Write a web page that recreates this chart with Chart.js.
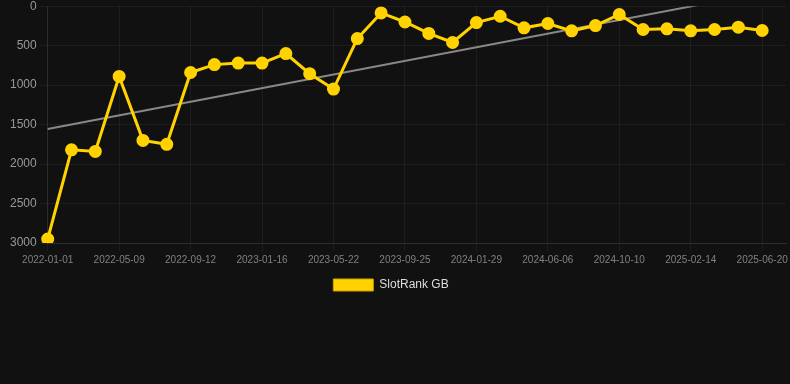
<!DOCTYPE html>
<html>
<head>
<meta charset="utf-8">
<script src="https://cdn.jsdelivr.net/npm/chart.js@4"></script>
<style>
    html, body { margin: 0; padding: 0; background: #111111; overflow: hidden; }
    #wrap { position: relative; width: 795px; height: 305px; margin-top: -4px; }
</style>
</head>
<body>
<div id="wrap"><canvas id="rankChart"></canvas></div>
<script>
// Dates of each rank snapshot (the last one has no value yet)
const dates = [
    "2022-01-01", "2022-02-12", "2022-03-26", "2022-05-09", "2022-06-20", "2022-08-01",
    "2022-09-12", "2022-10-25", "2022-12-05", "2023-01-16", "2023-02-28", "2023-04-10",
    "2023-05-22", "2023-07-04", "2023-08-14", "2023-09-25", "2023-11-07", "2023-12-18",
    "2024-01-29", "2024-03-12", "2024-04-24", "2024-06-06", "2024-07-18", "2024-08-29",
    "2024-10-10", "2024-11-22", "2025-01-03", "2025-02-14", "2025-03-28", "2025-05-09",
    "2025-06-20", "2025-08-01",
];

// SlotRank GB position per date
const rankGB = [
    2950, 1820, 1840, 890, 1700, 1750,
    840, 740, 720, 720, 600, 855,
    1050, 410, 85, 200, 345, 460,
    207, 127, 274, 219, 312, 245,
    105, 295, 287, 312, 295, 266,
    308, null,
];

// trend line, only start and end values
const trendStart = 1557;
const trendEnd = -170;
const trend = dates.map(() => null);
trend[0] = trendStart;
trend[30] = trendEnd;

const ctx = document.getElementById("rankChart").getContext("2d");
const rankChart = new Chart(ctx, {
    type: "line",
    data: {
        labels: dates,
        datasets: [
            {
                label: "SlotRank GB",
                data: rankGB,
                borderColor: "#FFD200",
                backgroundColor: "#FFD200",
                borderWidth: 3,
                pointRadius: 5,
                pointHoverRadius: 6,
                tension: 0,
            },
            {
                label: "trend",
                data: trend,
                borderColor: "rgba(150, 150, 150, 0.9)",
                borderWidth: 2,
                pointRadius: 0,
                spanGaps: true,
            },
        ],
    },
    options: {
        responsive: true,
        maintainAspectRatio: false,
        animation: false,
        layout: {
            padding: { left: 7, right: 0 },
        },
        plugins: {
            legend: {
                display: true,
                position: "bottom",
                labels: {
                    color: "#dddddd",
                    font: { family: "Liberation Sans, Arial", size: 12 },
                    filter: (item) => item.text.trim() !== "trend",
                    generateLabels: (chart) => {
                        const items = Chart.defaults.plugins.legend.labels.generateLabels(chart);
                        items.forEach((it) => {
                            it.lineWidth = 1;
                            it.strokeStyle = "#c9a600";
                            // trailing spaces nudge the centred item a bit to the left
                            it.text = it.text + "      ";
                        });
                        return items;
                    },
                },
            },
            tooltip: { enabled: false },
        },
        scales: {
            x: {
                grid: { color: "rgba(255, 255, 255, 0.05)" },
                border: { color: "rgba(255, 255, 255, 0.08)" },
                ticks: {
                    color: "#808080",
                    font: { family: "Liberation Sans, Arial", size: 10 },
                    maxRotation: 0,
                    autoSkip: true,
                    maxTicksLimit: 11,
                },
            },
            y: {
                reverse: true,
                min: 0,
                max: 3000,
                grid: { color: "rgba(255, 255, 255, 0.05)" },
                border: { color: "rgba(255, 255, 255, 0.08)" },
                ticks: {
                    stepSize: 500,
                    color: "#999999",
                    font: { family: "Liberation Sans, Arial", size: 12 },
                    callback: (value) => String(value),
                },
            },
        },
    },
});
</script>
</body>
</html>
